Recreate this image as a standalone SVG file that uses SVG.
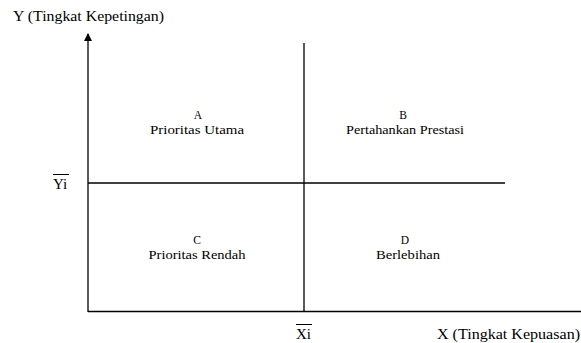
<svg xmlns="http://www.w3.org/2000/svg" width="581" height="343" viewBox="0 0 581 343">
<style>
text{font-family:"Liberation Serif","Times New Roman",serif;fill:#000}
.ax{font-size:15px}
.q{font-size:11.5px;text-anchor:middle}
.ln{stroke:#000;stroke-width:1.3;fill:none}
.ov{stroke:#000;stroke-width:1;fill:none}
</style>
<defs>
<marker id="arr" markerWidth="8" markerHeight="8" refX="7" refY="4" orient="auto" markerUnits="userSpaceOnUse">
<path d="M0,0 L8,4 L0,8 Z" fill="#000"/>
</marker>
</defs>
<rect width="581" height="343" fill="#fff"/>
<g id="connectors">
<line class="ln" x1="88" y1="312" x2="88" y2="34" marker-end="url(#arr)"/>
<line class="ln" x1="88" y1="311.5" x2="581" y2="311.5"/>
<line class="ln" x1="304" y1="43" x2="304" y2="311"/>
<line class="ln" x1="88" y1="183" x2="505" y2="183"/>
</g>
<g id="y-axis-label"><text class="ax" x="13" y="21" textLength="151" lengthAdjust="spacingAndGlyphs">Y (Tingkat Kepetingan)</text></g>
<g id="x-axis-label"><text class="ax" x="437" y="339" textLength="143" lengthAdjust="spacingAndGlyphs">X (Tingkat Kepuasan)</text></g>
<g id="yi"><text class="ax" x="53" y="189">Yi</text><line class="ov" x1="53" y1="174.5" x2="69" y2="174.5"/></g>
<g id="xi"><text class="ax" x="296" y="339">Xi</text><line class="ov" x1="296" y1="324.5" x2="312" y2="324.5"/></g>
<g id="quadrant-a"><text class="q" x="198" y="119">A</text><text class="q" x="197" y="134" textLength="94" lengthAdjust="spacingAndGlyphs">Prioritas Utama</text></g>
<g id="quadrant-b"><text class="q" x="403" y="119">B</text><text class="q" x="405" y="134" textLength="118" lengthAdjust="spacingAndGlyphs">Pertahankan Prestasi</text></g>
<g id="quadrant-c"><text class="q" x="197" y="244">C</text><text class="q" x="197" y="258.5" textLength="97" lengthAdjust="spacingAndGlyphs">Prioritas Rendah</text></g>
<g id="quadrant-d"><text class="q" x="405" y="244">D</text><text class="q" x="408" y="258.5" textLength="64" lengthAdjust="spacingAndGlyphs">Berlebihan</text></g>
</svg>
